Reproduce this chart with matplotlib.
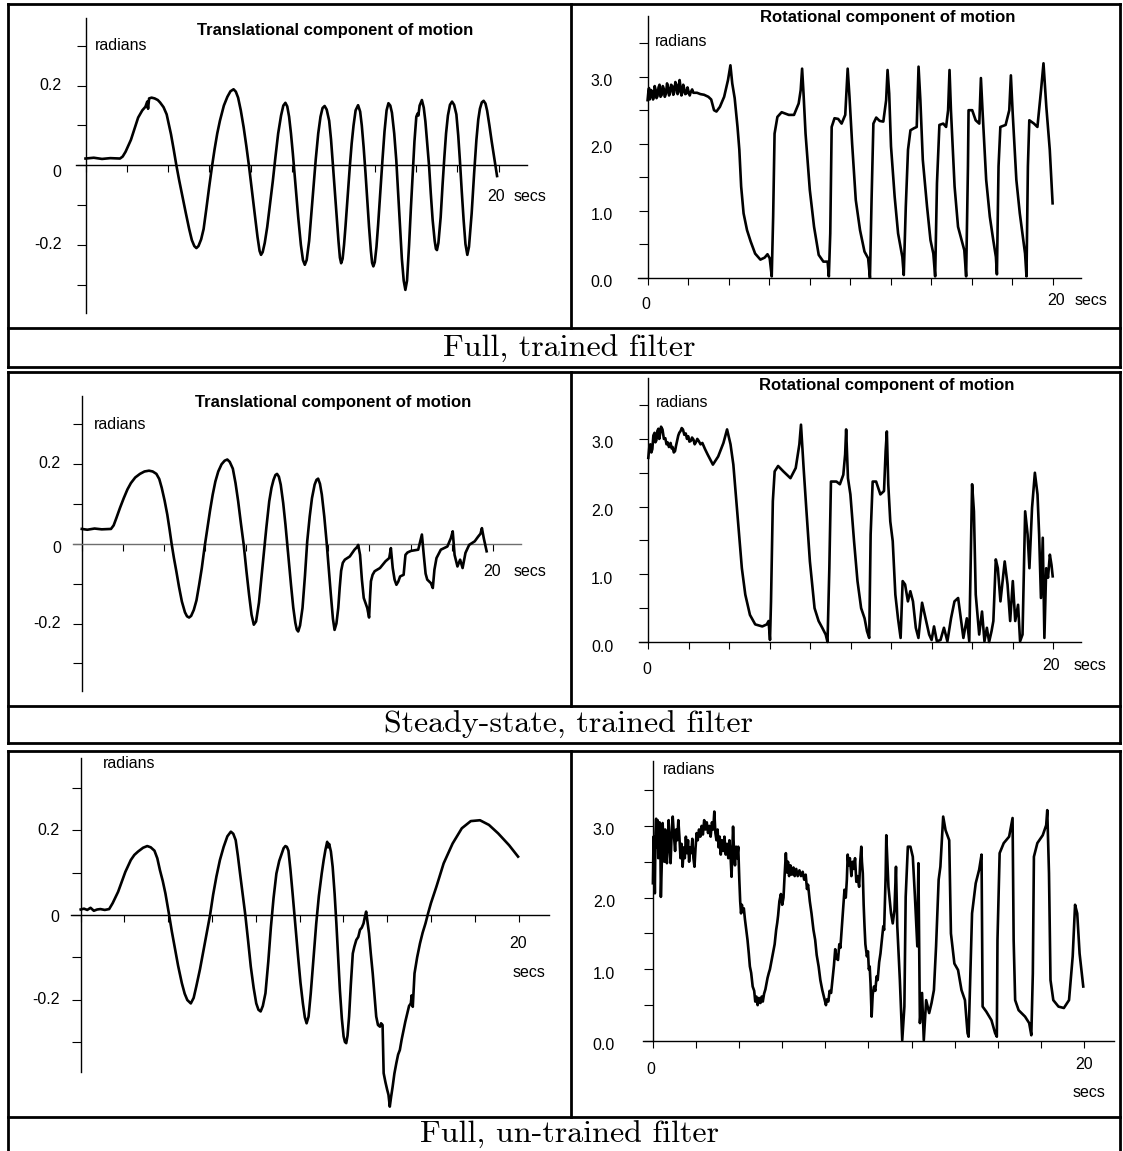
import numpy as np
import matplotlib
matplotlib.use("Agg")
import matplotlib.pyplot as plt
from matplotlib.lines import Line2D
from matplotlib.transforms import offset_copy

W, H = 1123, 1151

# ------------------------- data (time in s, angle in radians) -------------------------

trans_full = [
    (0, 0.017), (0.4, 0.019), (0.8, 0.016), (1.2, 0.018), (1.67, 0.017), (1.80, 0.022), (1.94, 0.034),
    (2.20, 0.064), (2.55, 0.120), (2.75, 0.138), (2.90, 0.147), (2.99, 0.160), (3.03, 0.142), (3.08, 0.168),
    (3.20, 0.170), (3.35, 0.168), (3.50, 0.164), (3.61, 0.158), (3.78, 0.146), (3.93, 0.128), (4.05, 0.100),
    (4.14, 0.078), (4.27, 0.040), (4.40, 0.0), (4.53, -0.036), (4.67, -0.072), (4.85, -0.118), (5.02, -0.160),
    (5.15, -0.188), (5.27, -0.203), (5.37, -0.208), (5.47, -0.203), (5.60, -0.186), (5.72, -0.160), (5.85, -0.110),
    (5.99, -0.054), (6.12, -0.005), (6.25, 0.040), (6.38, 0.080), (6.51, 0.112), (6.70, 0.150), (6.87, 0.172),
    (7.02, 0.186), (7.17, 0.191), (7.28, 0.185), (7.39, 0.170), (7.52, 0.138), (7.66, 0.095), (7.79, 0.048),
    (7.92, -0.003), (8.05, -0.060), (8.19, -0.120), (8.33, -0.180), (8.43, -0.215), (8.50, -0.225), (8.58, -0.218),
    (8.68, -0.195), (8.80, -0.155), (8.93, -0.100), (9.07, -0.040), (9.20, 0.022), (9.33, 0.080), (9.47, 0.125),
    (9.58, 0.150), (9.68, 0.157), (9.77, 0.148), (9.86, 0.122), (9.95, 0.080), (10.04, 0.030), (10.17, -0.050),
    (10.30, -0.130), (10.43, -0.200), (10.53, -0.238), (10.62, -0.250), (10.71, -0.238), (10.83, -0.190),
    (10.93, -0.125), (11.04, -0.054), (11.15, 0.015), (11.27, 0.080), (11.38, 0.122), (11.48, 0.144),
    (11.58, 0.149), (11.68, 0.140), (11.80, 0.112), (11.89, 0.065), (11.97, 0.010), (12.06, -0.055),
    (12.15, -0.120), (12.25, -0.190), (12.32, -0.232), (12.38, -0.246), (12.45, -0.235), (12.52, -0.200),
    (12.59, -0.154), (12.70, -0.075), (12.80, -0.003), (12.89, 0.055), (12.98, 0.100), (13.08, 0.138),
    (13.20, 0.151), (13.30, 0.135), (13.38, 0.100), (13.47, 0.045), (13.56, -0.020), (13.65, -0.090),
    (13.73, -0.154), (13.82, -0.215), (13.88, -0.245), (13.94, -0.254), (14.01, -0.243), (14.09, -0.205),
    (14.17, -0.150), (14.28, -0.065), (14.38, 0.013), (14.48, 0.085), (14.58, 0.138), (14.67, 0.156),
    (14.76, 0.150), (14.84, 0.132), (14.95, 0.080), (15.05, 0.013), (15.14, -0.070), (15.23, -0.154),
    (15.32, -0.235), (15.41, -0.290), (15.49, -0.313), (15.57, -0.290), (15.67, -0.200), (15.76, -0.105),
    (15.85, -0.020), (15.93, 0.060), (16.02, 0.122), (16.08, 0.130), (16.12, 0.125), (16.18, 0.150),
    (16.29, 0.164), (16.38, 0.145), (16.46, 0.110), (16.55, 0.055), (16.64, -0.003), (16.72, -0.070),
    (16.81, -0.137), (16.91, -0.190), (16.97, -0.210), (17.02, -0.213), (17.09, -0.195), (17.20, -0.130),
    (17.29, -0.050), (17.38, 0.022), (17.46, 0.080), (17.55, 0.125), (17.65, 0.152), (17.75, 0.160),
    (17.85, 0.152), (17.96, 0.128), (18.05, 0.075), (18.13, 0.013), (18.22, -0.065), (18.31, -0.137),
    (18.40, -0.198), (18.49, -0.225), (18.57, -0.205), (18.70, -0.121), (18.82, -0.020), (18.93, 0.064),
    (19.02, 0.115), (19.10, 0.142), (19.19, 0.158), (19.28, 0.162), (19.37, 0.155), (19.45, 0.137),
    (19.56, 0.100), (19.67, 0.060), (19.81, 0.013), (19.93, -0.027),
]

rot_full = [
    (0, 2.65), (0.04, 2.78), (0.07, 2.83), (0.10, 2.66), (0.14, 2.70), (0.18, 2.80), (0.23, 2.76), (0.27, 2.66),
    (0.31, 2.72), (0.35, 2.86), (0.40, 2.80), (0.44, 2.68), (0.49, 2.71), (0.54, 2.84), (0.59, 2.88), (0.64, 2.70),
    (0.70, 2.73), (0.75, 2.86), (0.80, 2.82), (0.85, 2.70), (0.91, 2.75), (0.96, 2.90), (1.01, 2.84), (1.06, 2.72),
    (1.11, 2.76), (1.16, 2.88), (1.22, 2.86), (1.27, 2.73), (1.32, 2.77), (1.37, 2.92), (1.43, 2.88), (1.48, 2.74),
    (1.53, 2.78), (1.58, 2.95), (1.62, 2.86), (1.67, 2.72), (1.71, 2.76), (1.76, 2.88), (1.81, 2.82), (1.86, 2.74),
    (1.92, 2.75), (1.97, 2.84), (2.02, 2.78), (2.08, 2.72), (2.13, 2.77), (2.20, 2.81), (2.26, 2.76),
    (2.44, 2.76), (2.61, 2.74), (2.79, 2.73), (3.00, 2.70), (3.14, 2.66), (3.28, 2.50), (3.40, 2.48), (3.57, 2.55),
    (3.78, 2.70), (3.97, 2.95), (4.09, 3.17), (4.18, 2.90), (4.30, 2.68), (4.44, 2.25), (4.53, 1.91), (4.62, 1.36),
    (4.74, 0.96), (4.91, 0.71), (5.09, 0.54), (5.31, 0.36), (5.57, 0.27), (5.78, 0.30), (5.92, 0.35), (6.03, 0.29),
    (6.13, 0.02), (6.20, 0.91), (6.27, 2.15), (6.41, 2.40), (6.62, 2.47), (6.97, 2.43), (7.23, 2.43), (7.46, 2.60),
    (7.56, 2.80), (7.63, 3.12), (7.70, 2.75), (7.80, 2.15), (8.01, 1.31), (8.22, 0.76), (8.45, 0.34), (8.68, 0.24),
    (8.89, 0.24), (8.95, 0.02), (9.02, 0.66), (9.09, 2.25), (9.23, 2.38), (9.41, 2.37), (9.58, 2.30), (9.76, 2.43),
    (9.88, 3.12), (9.97, 2.70), (10.10, 2.00), (10.28, 1.16), (10.49, 0.71), (10.71, 0.39), (10.89, 0.29),
    (10.98, 0.0), (11.06, 1.16), (11.15, 2.30), (11.29, 2.39), (11.46, 2.34), (11.64, 2.33), (11.78, 2.65),
    (11.85, 3.10), (11.93, 2.75), (12.02, 1.96), (12.20, 1.21), (12.37, 0.66), (12.58, 0.31), (12.65, 0.04),
    (12.75, 1.06), (12.86, 1.91), (12.98, 2.20), (13.15, 2.23), (13.29, 2.25), (13.38, 3.15), (13.47, 2.65),
    (13.59, 1.76), (13.80, 1.06), (13.97, 0.56), (14.11, 0.36), (14.20, 0.02), (14.29, 1.41), (14.41, 2.28),
    (14.60, 2.30), (14.74, 2.25), (14.84, 2.50), (14.91, 3.10), (14.98, 2.50), (15.16, 1.36), (15.33, 0.76),
    (15.51, 0.56), (15.64, 0.41), (15.73, 0.02), (15.82, 1.66), (15.85, 2.50), (16.03, 2.50), (16.20, 2.35),
    (16.38, 2.30), (16.46, 2.98), (16.55, 2.43), (16.72, 1.46), (16.90, 0.91), (17.07, 0.56), (17.20, 0.31),
    (17.25, 0.05), (17.33, 1.66), (17.42, 2.25), (17.68, 2.28), (17.86, 2.50), (17.94, 3.02), (18.03, 2.45),
    (18.21, 1.46), (18.38, 0.96), (18.55, 0.56), (18.64, 0.36), (18.71, 0.02), (18.78, 1.66), (18.85, 2.35),
    (19.08, 2.30), (19.25, 2.25), (19.43, 2.80), (19.55, 3.20), (19.69, 2.55), (19.86, 1.91), (20.00, 1.11),
]

trans_steady = [
    (0, 0.037), (0.27, 0.035), (0.62, 0.038), (0.97, 0.036), (1.42, 0.037), (1.55, 0.046), (1.68, 0.064),
    (1.86, 0.090), (2.04, 0.114), (2.22, 0.136), (2.39, 0.152), (2.60, 0.166), (2.83, 0.175), (3.05, 0.181),
    (3.27, 0.183), (3.45, 0.181), (3.63, 0.175), (3.77, 0.162), (3.89, 0.140), (4.03, 0.108), (4.16, 0.073),
    (4.27, 0.036), (4.37, 0.0), (4.48, -0.035), (4.60, -0.069), (4.73, -0.108), (4.87, -0.145), (5.02, -0.172),
    (5.12, -0.182), (5.22, -0.185), (5.32, -0.181), (5.45, -0.166), (5.58, -0.142), (5.71, -0.103), (5.84, -0.061),
    (5.97, -0.010), (6.11, 0.039), (6.24, 0.083), (6.37, 0.123), (6.50, 0.156), (6.64, 0.181), (6.80, 0.199),
    (6.95, 0.208), (7.08, 0.211), (7.20, 0.205), (7.35, 0.188), (7.48, 0.152), (7.61, 0.106), (7.74, 0.052),
    (7.88, -0.003), (8.01, -0.068), (8.14, -0.128), (8.26, -0.178), (8.37, -0.203), (8.48, -0.195), (8.62, -0.148),
    (8.73, -0.090), (8.85, -0.028), (8.98, 0.040), (9.12, 0.106), (9.23, 0.140), (9.33, 0.160), (9.42, 0.172),
    (9.50, 0.175), (9.59, 0.168), (9.68, 0.148), (9.80, 0.102), (9.91, 0.048), (10.04, -0.025), (10.18, -0.103),
    (10.29, -0.160), (10.39, -0.198), (10.46, -0.215), (10.53, -0.220), (10.62, -0.205), (10.74, -0.161),
    (10.86, -0.080), (10.97, 0.006), (11.09, 0.068), (11.20, 0.114), (11.33, 0.148), (11.42, 0.160),
    (11.50, 0.163), (11.59, 0.150), (11.68, 0.123), (11.80, 0.068), (11.91, 0.006), (12.01, -0.058),
    (12.12, -0.128), (12.22, -0.188), (12.30, -0.216), (12.39, -0.200), (12.48, -0.161), (12.55, -0.110),
    (12.62, -0.068), (12.70, -0.048), (12.80, -0.040), (13.04, -0.032), (13.27, -0.015), (13.40, -0.008),
    (13.45, -0.003), (13.54, -0.028), (13.63, -0.090), (13.72, -0.136), (13.89, -0.161), (13.98, -0.185),
    (14.03, -0.130), (14.07, -0.094), (14.15, -0.078), (14.25, -0.069), (14.51, -0.061), (14.78, -0.044),
    (14.96, -0.036), (15.04, -0.011), (15.13, -0.061), (15.22, -0.090), (15.31, -0.103), (15.40, -0.095),
    (15.49, -0.082), (15.66, -0.078), (15.75, -0.028), (15.85, -0.022), (16.02, -0.018), (16.37, -0.015),
    (16.55, 0.023), (16.64, -0.028), (16.73, -0.075), (16.81, -0.090), (16.99, -0.099), (17.08, -0.111),
    (17.16, -0.065), (17.26, -0.036), (17.47, -0.015), (17.79, -0.007), (17.96, 0.014), (18.05, 0.031),
    (18.14, -0.028), (18.28, -0.057), (18.41, -0.040), (18.53, -0.061), (18.67, -0.023), (18.85, -0.003),
    (19.12, 0.006), (19.29, 0.018), (19.40, 0.025), (19.47, 0.039), (19.56, 0.014), (19.70, -0.019),
]

rot_steady = [
    (0, 2.72), (0.05, 2.88), (0.10, 2.92), (0.15, 2.80), (0.20, 2.85), (0.25, 3.05), (0.31, 3.09), (0.35, 2.95),
    (0.40, 2.98), (0.45, 3.12), (0.50, 3.15), (0.54, 3.00), (0.57, 3.05), (0.63, 3.18), (0.70, 3.14), (0.77, 3.00),
    (0.84, 3.01), (0.90, 2.92), (0.95, 2.95), (1.02, 2.88), (1.10, 2.94), (1.15, 2.86), (1.20, 2.88), (1.26, 2.80),
    (1.32, 2.82), (1.37, 2.90), (1.42, 2.97), (1.48, 3.05), (1.53, 3.09), (1.60, 3.12), (1.65, 3.16), (1.71, 3.14),
    (1.78, 3.06), (1.85, 3.08), (1.91, 3.00), (1.97, 3.04), (2.03, 2.96), (2.10, 2.97), (2.16, 3.02), (2.23, 2.99),
    (2.29, 2.92), (2.35, 2.95), (2.42, 3.00), (2.49, 2.97), (2.58, 2.92), (2.67, 2.94), (2.80, 2.85), (2.93, 2.77),
    (3.19, 2.62), (3.45, 2.74), (3.71, 2.94), (3.89, 3.14), (4.06, 2.92), (4.20, 2.62), (4.32, 2.18), (4.46, 1.68),
    (4.62, 1.09), (4.79, 0.70), (5.02, 0.40), (5.28, 0.26), (5.63, 0.23), (5.85, 0.26), (5.94, 0.31), (6.01, 0.03),
    (6.06, 0.60), (6.15, 2.08), (6.24, 2.52), (6.41, 2.60), (6.67, 2.52), (7.02, 2.42), (7.28, 2.57), (7.46, 2.92),
    (7.54, 3.21), (7.67, 2.57), (7.80, 1.98), (7.98, 1.19), (8.21, 0.50), (8.41, 0.31), (8.59, 0.21), (8.76, 0.11),
    (8.85, 0.0), (8.94, 1.09), (9.02, 2.37), (9.29, 2.37), (9.46, 2.33), (9.63, 2.47), (9.72, 2.77), (9.77, 3.14),
    (9.86, 2.42), (9.98, 2.18), (10.16, 1.49), (10.33, 0.90), (10.51, 0.50), (10.68, 0.35), (10.80, 0.16),
    (10.91, 0.06), (10.98, 1.59), (11.08, 2.37), (11.25, 2.37), (11.46, 2.18), (11.64, 2.23), (11.72, 2.82),
    (11.78, 3.11), (11.85, 2.33), (11.95, 1.78), (12.07, 1.49), (12.20, 0.70), (12.33, 0.35), (12.46, 0.06),
    (12.56, 0.90), (12.68, 0.85), (12.82, 0.60), (12.94, 0.75), (13.07, 0.60), (13.21, 0.21), (13.34, 0.06),
    (13.52, 0.58), (13.69, 0.35), (13.87, 0.11), (13.99, 0.03), (14.11, 0.23), (14.25, 0.01), (14.43, 0.03),
    (14.60, 0.21), (14.77, 0.01), (14.95, 0.35), (15.12, 0.60), (15.30, 0.65), (15.47, 0.26), (15.56, 0.06),
    (15.73, 0.35), (15.85, 0.01), (15.99, 2.33), (16.08, 1.93), (16.17, 0.70), (16.34, 0.11), (16.48, 0.45),
    (16.60, 0.01), (16.72, 0.21), (16.83, 0.0), (16.95, 0.16), (17.04, 0.31), (17.16, 1.22), (17.26, 1.09),
    (17.39, 0.60), (17.60, 1.19), (17.74, 0.85), (17.87, 0.31), (18.00, 0.90), (18.12, 0.31), (18.26, 0.55),
    (18.36, 0.01), (18.48, 0.11), (18.61, 1.93), (18.73, 1.59), (18.82, 1.09), (18.95, 1.98), (19.09, 2.50),
    (19.22, 2.18), (19.30, 1.59), (19.39, 0.65), (19.48, 1.54), (19.56, 0.06), (19.65, 1.09), (19.74, 0.95),
    (19.83, 1.29), (19.91, 1.14), (19.97, 0.97),
]

trans_untrained = [
    (0, 0.013), (0.15, 0.015), (0.3, 0.012), (0.45, 0.017), (0.6, 0.010), (0.75, 0.013), (0.9, 0.014),
    (1.10, 0.012), (1.30, 0.014), (1.46, 0.028), (1.71, 0.055), (2.04, 0.102), (2.29, 0.130), (2.45, 0.142),
    (2.62, 0.150), (2.85, 0.159), (3.04, 0.163), (3.20, 0.160), (3.37, 0.152), (3.50, 0.134), (3.62, 0.106),
    (3.75, 0.080), (3.87, 0.051), (4.04, 0.0), (4.16, -0.038), (4.29, -0.075), (4.45, -0.120), (4.62, -0.161),
    (4.75, -0.186), (4.87, -0.201), (5.03, -0.209), (5.16, -0.196), (5.28, -0.169), (5.45, -0.128), (5.61, -0.083),
    (5.76, -0.040), (5.91, 0.0), (6.05, 0.048), (6.20, 0.091), (6.36, 0.130), (6.53, 0.161), (6.70, 0.186),
    (6.86, 0.197), (6.97, 0.192), (7.08, 0.177), (7.18, 0.140), (7.28, 0.098), (7.40, 0.050), (7.52, 0.0),
    (7.65, -0.062), (7.77, -0.122), (7.90, -0.172), (8.02, -0.209), (8.12, -0.224), (8.22, -0.228), (8.32, -0.215),
    (8.44, -0.185), (8.57, -0.110), (8.69, -0.028), (8.81, 0.040), (8.94, 0.098), (9.07, 0.128), (9.19, 0.146),
    (9.27, 0.158), (9.35, 0.163), (9.42, 0.161), (9.49, 0.152), (9.58, 0.108), (9.68, 0.051), (9.80, -0.022),
    (9.93, -0.098), (10.04, -0.160), (10.15, -0.209), (10.24, -0.242), (10.32, -0.256), (10.41, -0.240),
    (10.51, -0.185), (10.63, -0.105), (10.76, -0.020), (10.88, 0.045), (11.01, 0.098), (11.10, 0.130),
    (11.18, 0.154), (11.26, 0.173), (11.30, 0.160), (11.35, 0.168), (11.43, 0.150), (11.51, 0.114),
    (11.60, 0.050), (11.68, -0.020), (11.76, -0.100), (11.84, -0.177), (11.93, -0.245), (12.01, -0.287),
    (12.07, -0.300), (12.13, -0.303), (12.19, -0.285), (12.26, -0.240), (12.34, -0.165), (12.43, -0.091),
    (12.50, -0.075), (12.59, -0.059), (12.68, -0.052), (12.76, -0.035), (12.84, -0.030), (12.92, -0.020),
    (12.98, -0.005), (13.04, 0.008), (13.10, -0.015), (13.17, -0.043), (13.25, -0.090), (13.34, -0.138),
    (13.42, -0.190), (13.50, -0.240), (13.58, -0.260), (13.67, -0.264), (13.72, -0.256), (13.79, -0.260),
    (13.84, -0.374), (13.92, -0.395), (14.00, -0.413), (14.06, -0.425), (14.12, -0.453), (14.18, -0.430),
    (14.25, -0.406), (14.33, -0.375), (14.42, -0.350), (14.50, -0.330), (14.58, -0.319), (14.66, -0.295),
    (14.75, -0.272), (14.83, -0.252), (14.92, -0.232), (15.00, -0.215), (15.08, -0.209), (15.12, -0.190),
    (15.17, -0.217), (15.25, -0.138), (15.37, -0.100), (15.50, -0.067), (15.62, -0.042), (15.75, -0.020),
    (15.87, 0.004), (16.00, 0.028), (16.25, 0.067), (16.58, 0.122), (16.99, 0.169), (17.41, 0.205),
    (17.82, 0.222), (18.24, 0.224), (18.65, 0.213), (19.07, 0.193), (19.57, 0.165), (19.98, 0.138),
]

rot_untrained = [
    (0, 2.20), (0.03, 2.85), (0.06, 2.60), (0.09, 2.06), (0.12, 2.90), (0.15, 3.10), (0.18, 2.70), (0.22, 3.08),
    (0.25, 2.55), (0.28, 2.67), (0.31, 3.05), (0.34, 2.90), (0.37, 2.01), (0.41, 2.45), (0.45, 3.04), (0.49, 2.80),
    (0.53, 2.50), (0.57, 2.95), (0.61, 2.62), (0.65, 2.48), (0.69, 2.80), (0.73, 3.08), (0.77, 2.75), (0.82, 2.48),
    (0.87, 2.90), (0.92, 3.13), (0.98, 2.85), (1.03, 2.65), (1.08, 2.95), (1.13, 2.80), (1.18, 3.08), (1.23, 2.85),
    (1.28, 2.55), (1.33, 2.75), (1.38, 2.43), (1.43, 2.70), (1.48, 2.55), (1.53, 2.85), (1.58, 2.62), (1.63, 2.80),
    (1.68, 2.50), (1.73, 2.70), (1.78, 2.62), (1.83, 2.82), (1.88, 2.55), (1.93, 2.43), (1.98, 2.70), (2.03, 2.90),
    (2.08, 2.80), (2.14, 2.95), (2.20, 2.85), (2.26, 3.00), (2.32, 2.88), (2.38, 3.08), (2.44, 2.95), (2.50, 3.05),
    (2.56, 2.90), (2.62, 3.00), (2.68, 2.85), (2.74, 3.05), (2.80, 2.95), (2.85, 3.20), (2.90, 2.90), (2.95, 2.80),
    (3.00, 2.95), (3.05, 2.70), (3.10, 2.85), (3.15, 2.60), (3.20, 2.80), (3.26, 2.65), (3.32, 2.85), (3.38, 2.60),
    (3.44, 2.75), (3.50, 2.55), (3.55, 2.80), (3.60, 2.60), (3.65, 2.29), (3.69, 2.70), (3.72, 2.99), (3.77, 2.60),
    (3.81, 2.45), (3.86, 2.71), (3.91, 2.55), (3.96, 2.71), (4.01, 2.25), (4.05, 1.95), (4.09, 1.78), (4.13, 1.90),
    (4.17, 1.80), (4.22, 1.85), (4.27, 1.70), (4.33, 1.55), (4.39, 1.41), (4.45, 1.22), (4.50, 1.04), (4.56, 0.95),
    (4.63, 0.76), (4.70, 0.70), (4.75, 0.55), (4.80, 0.62), (4.86, 0.50), (4.92, 0.60), (4.99, 0.53), (5.05, 0.62),
    (5.10, 0.55), (5.16, 0.66), (5.22, 0.72), (5.27, 0.80), (5.32, 0.88), (5.38, 0.95), (5.43, 1.00), (5.48, 1.08),
    (5.55, 1.20), (5.60, 1.28), (5.65, 1.35), (5.72, 1.55), (5.77, 1.65), (5.81, 1.75), (5.87, 1.95), (5.94, 2.05),
    (6.00, 1.90), (6.06, 2.00), (6.11, 2.30), (6.17, 2.62), (6.22, 2.35), (6.27, 2.50), (6.32, 2.30), (6.38, 2.45),
    (6.45, 2.32), (6.52, 2.42), (6.58, 2.30), (6.65, 2.40), (6.72, 2.30), (6.80, 2.38), (6.87, 2.30), (6.95, 2.36),
    (7.02, 2.25), (7.09, 2.32), (7.15, 2.12), (7.20, 2.18), (7.28, 1.95), (7.36, 1.78), (7.45, 1.55), (7.53, 1.41),
    (7.60, 1.20), (7.69, 1.04), (7.77, 0.85), (7.86, 0.71), (7.95, 0.60), (8.03, 0.50), (8.07, 0.58), (8.14, 0.55),
    (8.20, 0.70), (8.27, 0.67), (8.35, 0.90), (8.40, 1.05), (8.46, 1.28), (8.52, 1.15), (8.59, 1.13), (8.65, 1.35),
    (8.70, 1.30), (8.76, 1.55), (8.82, 1.80), (8.89, 2.11), (8.95, 2.00), (9.00, 2.25), (9.04, 2.60), (9.08, 2.45),
    (9.14, 2.55), (9.21, 2.30), (9.27, 2.50), (9.33, 2.40), (9.38, 2.55), (9.44, 2.22), (9.50, 2.30), (9.57, 2.15),
    (9.62, 2.50), (9.67, 2.71), (9.70, 2.50), (9.74, 2.34), (9.78, 1.90), (9.82, 1.60), (9.86, 1.35), (9.93, 1.18),
    (9.98, 1.25), (10.02, 1.00), (10.06, 1.04), (10.10, 0.80), (10.15, 0.34), (10.20, 0.65), (10.26, 0.76),
    (10.32, 0.70), (10.38, 0.90), (10.43, 0.85), (10.50, 1.10), (10.56, 1.22), (10.62, 1.40), (10.69, 1.60),
    (10.73, 1.55), (10.77, 2.01), (10.80, 2.30), (10.83, 2.87), (10.93, 2.15), (11.05, 1.78), (11.13, 1.64),
    (11.21, 1.83), (11.28, 2.43), (11.34, 1.60), (11.46, 0.85), (11.57, 0.01), (11.67, 0.48), (11.73, 2.01),
    (11.83, 2.71), (11.95, 2.71), (12.06, 2.57), (12.16, 2.01), (12.27, 1.32), (12.32, 2.48), (12.39, 0.25),
    (12.49, 0.67), (12.57, 0.01), (12.68, 0.57), (12.82, 0.39), (12.93, 0.53), (13.04, 0.71), (13.14, 1.32),
    (13.26, 2.25), (13.34, 2.43), (13.47, 3.13), (13.58, 2.94), (13.75, 2.80), (13.83, 1.50), (13.99, 1.08),
    (14.16, 0.99), (14.32, 0.71), (14.48, 0.57), (14.60, 0.11), (14.65, 0.06), (14.73, 0.94), (14.81, 1.78),
    (14.98, 2.20), (15.14, 2.39), (15.25, 2.60), (15.30, 0.48), (15.47, 0.41), (15.71, 0.29), (15.88, 0.11),
    (15.96, 0.06), (15.99, 1.41), (16.09, 2.62), (16.28, 2.76), (16.53, 2.85), (16.69, 3.11), (16.74, 1.41),
    (16.81, 0.57), (16.97, 0.43), (17.27, 0.34), (17.46, 0.25), (17.56, 0.08), (17.63, 0.94), (17.68, 2.57),
    (17.84, 2.76), (18.09, 2.87), (18.25, 3.01), (18.30, 3.22), (18.38, 2.34), (18.45, 0.85), (18.58, 0.57),
    (18.82, 0.48), (19.07, 0.46), (19.31, 0.57), (19.48, 1.18), (19.59, 1.90), (19.69, 1.78), (19.80, 1.22),
    (19.97, 0.76),
]

trans_ticks = [-0.3, -0.2, -0.1, 0, 0.1, 0.2, 0.3]
trans_labels = {0.2: "0.2", 0: "0", -0.2: "-0.2"}
rot_ticks = [0, 0.5, 1.0, 1.5, 2.0, 2.5, 3.0, 3.5]
rot_labels = {0: "0.0", 1.0: "1.0", 2.0: "2.0", 3.0: "3.0"}
time_ticks = list(range(0, 21, 2))

captions = ["Full, trained filter", "Steady-state, trained filter", "Full, un-trained filter"]
title_trans = "Translational component of motion"
title_rot = "Rotational component of motion"

# ------------------------- figure -------------------------

fig = plt.figure(figsize=(W / 100, H / 100), dpi=100)
SANS = "Liberation Sans"


def px_text(x, y, s, **kw):
    fig.text(x / W, 1 - y / H, s, **kw)


def px_line(x1, y1, x2, y2, lw=2.0):
    fig.add_artist(Line2D([x1 / W, x2 / W], [1 - y1 / H, 1 - y2 / H], transform=fig.transFigure,
                          color="black", lw=lw, solid_capstyle="projecting"))


def make_panel(pts, kind, x0, x20, y0, ppu, lab_dx, lab_dy, zero_dy, lab20, secs, zero_lab=None,
               xaxis_color="black"):
    xlim = (-1.5, 22.5)
    ylim = (-0.5, 0.43) if kind == "trans" else (-0.8, 4.1)
    sx = (x20 - x0) / 20.0
    left = x0 + xlim[0] * sx
    right = x0 + xlim[1] * sx
    top = y0 - ylim[1] * ppu
    bottom = y0 - ylim[0] * ppu
    ax = fig.add_axes([left / W, 1 - bottom / H, (right - left) / W, (bottom - top) / H])
    ax.set_xlim(xlim)
    ax.set_ylim(ylim)
    ax.patch.set_visible(False)

    t, v = zip(*pts)
    ax.plot(t, v, color="black", lw=1.9, solid_joinstyle="round", zorder=3)

    for side in ("top", "right"):
        ax.spines[side].set_visible(False)
    ax.spines["left"].set_position(("data", 0))
    ax.spines["bottom"].set_position(("data", 0))
    ax.spines["bottom"].set_bounds(-0.45, 21.38)
    ax.spines["bottom"].set_color(xaxis_color)
    ax.spines["left"].set_linewidth(1.0)
    ax.spines["bottom"].set_linewidth(1.0)
    if kind == "trans":
        ax.spines["left"].set_bounds(-0.37, 0.37)
        ax.set_yticks(trans_ticks)
        labels = trans_labels
    else:
        ax.spines["left"].set_bounds(0, 3.9)
        ax.set_yticks(rot_ticks)
        labels = rot_labels
    ax.set_xticks(time_ticks)
    ax.tick_params(axis="y", direction="out", length=6.3, width=0.8, labelleft=False)
    ax.tick_params(axis="x", direction="out", length=5, width=0.8, labelbottom=False)

    for val, s in labels.items():
        dy = zero_dy if (kind == "trans" and val == 0) else lab_dy
        tr = offset_copy(ax.transData, fig=fig, x=-lab_dx, y=-dy, units="dots")
        ax.text(0, val, s, transform=tr, ha="right", va="center", fontsize=11.5, family=SANS)

    tr = offset_copy(ax.transData, fig=fig, x=lab20[0], y=-lab20[1], units="dots")
    ax.text(20, 0, "20", transform=tr, ha="center", va="center", fontsize=11.5, family=SANS)
    tr = offset_copy(ax.transData, fig=fig, x=secs[0], y=-secs[1], units="dots")
    ax.text(20, 0, "secs", transform=tr, ha=secs[2], va="center", fontsize=11.5, family=SANS)
    if zero_lab is not None:
        tr = offset_copy(ax.transData, fig=fig, x=zero_lab[0], y=-zero_lab[1], units="dots")
        ax.text(0, 0, "0", transform=tr, ha="center", va="center", fontsize=11.5, family=SANS)
    return ax


# row 1 : full, trained filter
make_panel(trans_full, "trans", 85.5, 498.5, 165.3, 398, 24, 0, 7.7, (-2.5, 31), (15.5, 31, "left"))
make_panel(rot_full, "rot", 647.6, 1052.6, 277.7, 67, 35, 5, 5, (3.8, 23), (21.8, 23, "left"), zero_lab=(-2, 27.3))
# row 2 : steady-state, trained filter
make_panel(trans_steady, "trans", 81.8, 492.8, 543.7, 399, 21, 0, 5, (-0.3, 27.6), (20.7, 27.6, "left"),
           xaxis_color="#6e6e6e")
make_panel(rot_steady, "rot", 648.3, 1053.3, 642, 67.7, 35, 5, 5, (-1.8, 23.7), (20.7, 23.7, "left"), zero_lab=(-1.4, 27.7))
# row 3 : full, un-trained filter
make_panel(trans_untrained, "trans", 80.7, 518.5, 915, 423, 21, 0, 2, (0, 29), (10.5, 57.3, "center"))
make_panel(rot_untrained, "rot", 652.9, 1083.9, 1041, 71.7, 38, 5, 5, (0, 24), (5.6, 51.7, "center"), zero_lab=(-1.9, 29))

# titles and "radians"
px_text(335, 30, title_trans, ha="center", va="center", fontsize=12, weight="bold", family=SANS)
px_text(888, 17.3, title_rot, ha="center", va="center", fontsize=12, weight="bold", family=SANS)
px_text(333, 402.3, title_trans, ha="center", va="center", fontsize=12, weight="bold", family=SANS)
px_text(886.7, 385.3, title_rot, ha="center", va="center", fontsize=12, weight="bold", family=SANS)
for x, y in [(95, 45.7), (654.7, 41.7), (93.5, 424), (655.7, 402.3), (103, 764), (662.4, 769.3)]:
    px_text(x, y, "radians", ha="left", va="center", fontsize=11.5, family=SANS)

# boxes round each row, with a caption strip underneath
rows = [(4, 328.3, 366.7), (371.7, 705.7, 742.7), (751, 1117, 1160)]
for (top, mid, bot), cap in zip(rows, captions):
    px_line(8, top, 1120, top)
    px_line(8, mid, 1120, mid)
    px_line(8, bot, 1120, bot)
    px_line(8, top, 8, bot)
    px_line(1120, top, 1120, bot)
    px_line(571, top, 571, mid)
    px_text(569, (mid + min(bot, 1151)) / 2 + 1, cap, ha="center", va="center", fontsize=23,
            family="cmr10")

fig.savefig("out.png", dpi=100)
